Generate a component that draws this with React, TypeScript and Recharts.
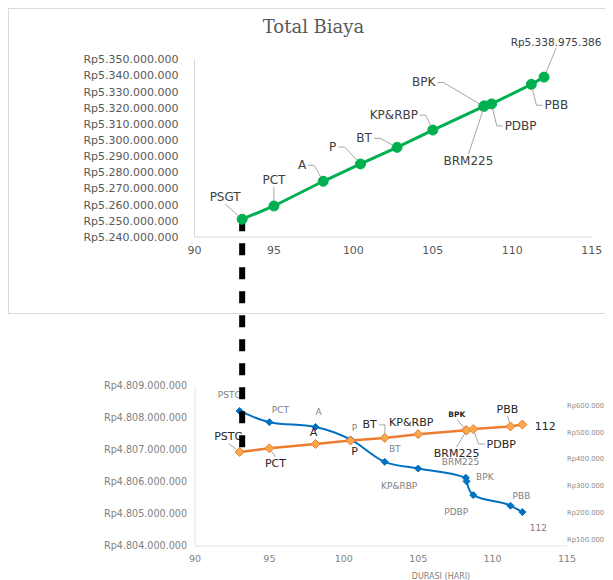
import React from 'react';
import { LineChart, Line, XAxis, YAxis, ReferenceLine, LabelList } from 'recharts';

// ---------- data ----------
const DURASI = [93, 95, 98.1, 100.45, 102.75, 105, 108.2, 108.25, 108.7, 111.2, 112];
const NAMA_ATAS = ['PSGT', 'PCT', 'A', 'P', 'BT', 'KP&RBP', 'BPK', 'BRM225', 'PDBP', 'PBB', 'Rp5.338.975.386'];
const TOTAL_BIAYA = [5251000000, 5259200000, 5274500000, 5285200000, 5295500000, 5306200000, 5320800000, 5321200000, 5322400000, 5334500000, 5338975386];
const NAMA_BAWAH = ['PSTG', 'PCT', 'A', 'P', 'BT', 'KP&RBP', 'BPK', 'BRM225', 'PDBP', 'PBB', '112'];
const BIAYA_LANGSUNG = [4808220000, 4807870000, 4807720000, 4807330000, 4806630000, 4806420000, 4806130000, 4806020000, 4805590000, 4805260000, 4805060000];
const BIAYA_TIDAK_LANGSUNG = [426500000, 440000000, 456000000, 469000000, 479000000, 493000000, 508000000, 507000000, 512000000, 522000000, 529000000];

const X_TICKS = [90, 95, 100, 105, 110, 115];
const TOP_Y_TICKS = [5240000000, 5250000000, 5260000000, 5270000000, 5280000000, 5290000000, 5300000000, 5310000000, 5320000000, 5330000000, 5340000000, 5350000000];
const LEFT_Y_TICKS = [4804000000, 4805000000, 4806000000, 4807000000, 4808000000, 4809000000];
const RIGHT_Y_TICKS = [100000000, 200000000, 300000000, 400000000, 500000000, 600000000];
const TOP_Y_DOMAIN = [5240000000, 5350000000];
const LEFT_Y_DOMAIN = [4804000000, 4809000000];
const RIGHT_Y_DOMAIN = [75000000, 673000000];
const CONNECTOR_END = 5106300000; // where the dashed link meets the lower chart (top-chart value scale)

// ---------- label layout (offsets of label centre from its point) ----------
const TOP_LABEL_POS = [[-17, -22], [0, -26], [-21, -16], [-28, -17], [-33, -9], [-39, -15], [-60, -24], [-16, 55], [29, 22], [25, 21], [12, -35]];
const TOP_LABEL_LEADER = [true, true, true, true, true, true, true, true, true, true, true];
const BLUE_LABEL_POS = [[-10, -16], [11, -12], [3, -15], [4, -11], [10, -13], [-19, 17], [19, -1], [-6, -19], [-17, 17], [11, -10], [16, 16]];
const BLUE_LABEL_LEADER = [false, false, false, false, false, false, false, false, false, false, false];
const ORANGE_LABEL_POS = [[-11, -15], [6, 15], [-2, -12], [4, 11], [-15, -13], [-7, -12], [-9, -16], [-10, 23], [28, 15], [-3, -17], [23, 2]];
const ORANGE_LABEL_LEADER = [true, true, false, false, true, false, true, true, true, true, true];

const topData = DURASI.map((d, i) => ({ durasi: d, total: TOTAL_BIAYA[i] }));
const bottomData = DURASI.map((d, i) => ({ durasi: d, langsung: BIAYA_LANGSUNG[i], tidakLangsung: BIAYA_TIDAK_LANGSUNG[i] }));

const FONT = 'DejaVu Sans';
const GREEN = '#00B050';
const BLUE = '#0070C0';
const ORANGE = '#ED7D31';

const rp = (v: number) => 'Rp' + Math.round(v).toString().replace(/\B(?=(\d{3})+(?!\d))/g, '.');

function leaderPath(px: number, py: number, lx: number, ly: number, hw: number, hh: number, r: number) {
  const pts: number[][] = [];
  if (Math.abs(lx - px) > hw + 3) {
    const side = px > lx ? 1 : -1;
    const sx = lx + side * (hw + 2);
    pts.push([sx, ly]);
    pts.push([sx + side * 6, ly]);
  } else {
    const side = py > ly ? 1 : -1;
    pts.push([lx, ly + side * (hh + 2)]);
  }
  const [ax, ay] = pts[pts.length - 1];
  const d = Math.hypot(px - ax, py - ay);
  if (d < r + 2) return null;
  pts.push([px - ((px - ax) / d) * r, py - ((py - ay) / d) * r]);
  return 'M' + pts.map((p) => p[0].toFixed(1) + ',' + p[1].toFixed(1)).join('L');
}

type LabelCfg = {
  names: string[];
  pos: number[][];
  leader: boolean[];
  fontSize: (i: number) => number;
  weight?: (i: number) => number | string;
  color: string;
  r: number;
};

function makeLabel(cfg: LabelCfg) {
  return (props: any) => {
    const i = props.index;
    const px = props.x ?? props.viewBox?.x;
    const py = props.y ?? props.viewBox?.y;
    if (px == null || py == null || i == null) return null;
    const [dx, dy] = cfg.pos[i];
    const lx = px + dx;
    const ly = py + dy;
    const fs = cfg.fontSize(i);
    const text = cfg.names[i];
    const hw = text.length * fs * 0.33;
    const hh = fs * 0.4;
    const path = cfg.leader[i] ? leaderPath(px, py, lx, ly, hw, hh, cfg.r) : null;
    return (
      <g key={'lbl' + i}>
        {path && <path d={path} stroke="#a6a6a6" strokeWidth={1} fill="none" />}
        <text x={lx} y={ly} textAnchor="middle" dominantBaseline="central" fontFamily={FONT} fontSize={fs}
          fontWeight={cfg.weight ? cfg.weight(i) : 'normal'} fill={cfg.color}>{text}</text>
      </g>
    );
  };
}

const diamond = (fill: string, stroke: string, s: number) => (props: any) => {
  const { cx, cy, index } = props;
  if (cx == null || cy == null) return <g key={'d' + index} />;
  return (
    <path key={'d' + index} d={`M${cx},${cy - s}L${cx + s},${cy}L${cx},${cy + s}L${cx - s},${cy}Z`}
      fill={fill} stroke={stroke} strokeWidth={1} />
  );
};

const topLabel = makeLabel({
  names: NAMA_ATAS, pos: TOP_LABEL_POS, leader: TOP_LABEL_LEADER,
  fontSize: (i) => (i === NAMA_ATAS.length - 1 ? 10.5 : 12), color: '#404040', r: 5,
});
const blueLabel = makeLabel({
  names: NAMA_BAWAH, pos: BLUE_LABEL_POS, leader: BLUE_LABEL_LEADER,
  fontSize: () => 9, color: '#7f7f7f', r: 3,
});
const orangeLabel = makeLabel({
  names: NAMA_BAWAH, pos: ORANGE_LABEL_POS, leader: ORANGE_LABEL_LEADER,
  fontSize: (i) => (i === 6 ? 7.5 : 11), weight: (i) => (i === 6 ? 'bold' : 'normal'), color: '#262626', r: 4,
});

export default function App() {
  return (
    <div style={{ position: 'relative', width: 605, height: 572, overflow: 'hidden', background: '#fff' }}>
      {/* frame of upper chart */}
      <div style={{ position: 'absolute', left: 0, top: 0, width: 700, height: 306, border: '1px solid #d9d9d9', boxSizing: 'border-box' }} />
      <div style={{ position: 'absolute', left: 0, top: 10, width: 611, textAlign: 'center', fontFamily: 'DejaVu Serif', fontSize: 18, lineHeight: '18px', color: '#595959' }}>
        Total Biaya
      </div>

      {/* lower chart */}
      <div style={{ position: 'absolute', left: 0, top: 330, zIndex: 1 }}>
        <LineChart width={605} height={242} data={bottomData} margin={{ top: 48, right: 0, bottom: 0, left: 0 }}>
          <XAxis type="number" dataKey="durasi" domain={[90, 115]} ticks={X_TICKS} interval={0} height={34}
            axisLine={{ stroke: '#e3e3e3' }} tickLine={false} tickSize={6} tickMargin={3}
            tick={{ fill: '#7f7f7f', fontSize: 9.5, fontFamily: FONT }}
            label={{ value: 'DURASI (HARI)', position: 'insideBottom', offset: 1, dx: 60, fill: '#7f7f7f', fontSize: 8, fontFamily: FONT }} />
          <YAxis yAxisId="left" type="number" domain={LEFT_Y_DOMAIN} ticks={LEFT_Y_TICKS} interval={0} width={187}
            axisLine={{ stroke: '#e3e3e3' }} tickLine={false} tickSize={6} tickMargin={2} tickFormatter={rp}
            tick={{ fill: '#7f7f7f', fontSize: 9.6, fontFamily: FONT }} />
          <YAxis yAxisId="right" orientation="right" type="number" domain={RIGHT_Y_DOMAIN} ticks={RIGHT_Y_TICKS} interval={0} width={46}
            axisLine={false} tickLine={false} tickSize={0} tickMargin={0} tickFormatter={rp}
            tick={{ fill: '#8c8c8c', fontSize: 6.8, fontFamily: FONT }} />
          <Line yAxisId="left" type="monotone" dataKey="langsung" stroke={BLUE} strokeWidth={2}
            dot={diamond(BLUE, BLUE, 3.5)} activeDot={false} isAnimationActive={false}>
            <LabelList dataKey="langsung" content={blueLabel} />
          </Line>
          <Line yAxisId="right" type="linear" dataKey="tidakLangsung" stroke={ORANGE} strokeWidth={2.5}
            dot={diamond('#F9A94B', ORANGE, 4.5)} activeDot={false} isAnimationActive={false}>
            <LabelList dataKey="tidakLangsung" content={orangeLabel} />
          </Line>
        </LineChart>
      </div>

      {/* upper chart */}
      <div style={{ position: 'absolute', left: 0, top: 0, zIndex: 2 }}>
        <LineChart width={605} height={460} data={topData} margin={{ top: 51.3, right: 21.3, bottom: 201, left: 0 }}>
          <XAxis type="number" dataKey="durasi" domain={[90, 115]} ticks={X_TICKS} interval={0} height={30}
            axisLine={{ stroke: '#d9d9d9' }} tickLine={false} tickSize={6} tickMargin={3.5}
            tick={{ fill: '#595959', fontSize: 11, fontFamily: FONT }} />
          <YAxis type="number" domain={TOP_Y_DOMAIN} ticks={TOP_Y_TICKS} interval={0} width={186.5}
            axisLine={{ stroke: '#d9d9d9' }} tickLine={false} tickSize={6} tickMargin={10} tickFormatter={rp}
            tick={{ fill: '#595959', fontSize: 11, fontFamily: FONT }} />
          <Line type="linear" dataKey="total" stroke={GREEN} strokeWidth={3}
            dot={{ r: 5, fill: GREEN, stroke: GREEN, strokeWidth: 1 }} activeDot={false} isAnimationActive={false}>
            <LabelList dataKey="total" content={topLabel} />
          </Line>
          <ReferenceLine ifOverflow="visible"
            segment={[{ x: DURASI[0], y: TOTAL_BIAYA[0] }, { x: DURASI[0], y: CONNECTOR_END }]}
            stroke="#000" strokeWidth={6} strokeDasharray="12 12" />
        </LineChart>
      </div>
    </div>
  );
}
